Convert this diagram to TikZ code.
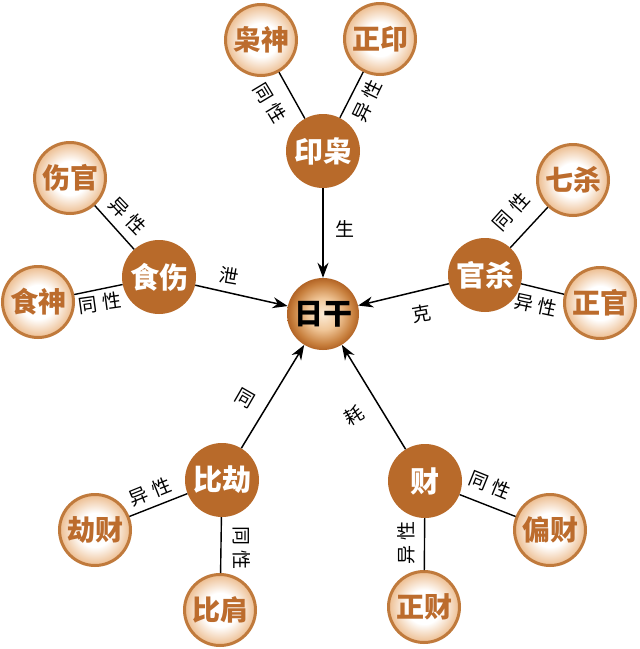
\documentclass[tikz,border=0pt]{standalone}
\usepackage{fontspec}
\newfontfamily\cjk{Noto Sans CJK SC}
\usetikzlibrary{arrows.meta}
\definecolor{brownfill}{RGB}{184,106,42}
\definecolor{ringcol}{RGB}{192,122,60}
\definecolor{outertext}{RGB}{188,108,45}
\definecolor{peach}{RGB}{238,194,152}
\definecolor{sunA}{RGB}{252,236,216}
\definecolor{sunB}{RGB}{240,198,152}
\definecolor{sunC}{RGB}{200,128,62}
\definecolor{sunD}{RGB}{178,100,38}
\pgfdeclareradialshading{outerball}{\pgfpoint{0bp}{0bp}}{color(0bp)=(white); color(12bp)=(white); color(24bp)=(peach); color(50bp)=(peach)}
\pgfdeclareradialshading{sunball}{\pgfpoint{0bp}{0bp}}{color(0bp)=(sunA); color(11bp)=(sunB); color(21bp)=(sunC); color(25bp)=(sunD); color(50bp)=(sunD)}
\tikzset{
  outernode/.style={circle, minimum size=71pt, inner sep=0pt, draw=ringcol, line width=3pt, shade, shading=outerball, font=\cjk\bfseries\fontsize{28}{28}\selectfont, text=outertext},
  innernode/.style={circle, minimum size=74pt, inner sep=0pt, fill=brownfill, font=\cjk\bfseries\fontsize{29}{29}\selectfont, text=white},
  sunnode/.style={circle, minimum size=72pt, inner sep=0pt, shade, shading=sunball, font=\cjk\bfseries\fontsize{29}{29}\selectfont, text=black},
  lbl/.style={font=\cjk\fontsize{19}{19}\selectfont, inner sep=0pt, text=black},
  link/.style={line width=1.4pt, draw=black},
  arr/.style={line width=1.5pt, draw=black, -{Stealth[length=15pt,width=11pt]}}
}
\begin{document}
\begin{tikzpicture}[x=1pt,y=-1pt]
\useasboundingbox[fill=white] (0,0) rectangle (640,649);
% centre
\node[sunnode] (ri) at (323,314) {日干};
% inner nodes
\node[innernode] (yx) at (323,151) {印枭};
\node[innernode] (ss) at (159,277) {食伤};
\node[innernode] (gs) at (485,275) {官杀};
\node[innernode] (bj) at (222,480) {比劫};
\node[innernode] (cai) at (425,481) {财};
% outer nodes
\node[outernode] (xs) at (261,40) {枭神};
\node[outernode] (zy) at (380,39) {正印};
\node[outernode] (sg) at (70,178) {伤官};
\node[outernode] (sh) at (38,302) {食神};
\node[outernode] (qs) at (573,180) {七杀};
\node[outernode] (zg) at (600,303) {正官};
\node[outernode] (jc) at (95,530) {劫财};
\node[outernode] (bjian) at (220,610) {比肩};
\node[outernode] (pc) at (550,530) {偏财};
\node[outernode] (zc) at (424,607) {正财};
% links
\draw[link] (yx) -- (xs);
\draw[link] (yx) -- (zy);
\draw[link] (ss) -- (sg);
\draw[link] (ss) -- (sh);
\draw[link] (gs) -- (qs);
\draw[link] (gs) -- (zg);
\draw[link] (bj) -- (jc);
\draw[link] (bj) -- (bjian);
\draw[link] (cai) -- (pc);
\draw[link] (cai) -- (zc);
% arrows
\draw[arr] (yx) -- (ri);
\draw[arr] (ss) -- (ri);
\draw[arr] (gs) -- (ri);
\draw[arr] (bj) -- (ri);
\draw[arr] (cai) -- (ri);
% labels
\node[lbl, rotate=-59] (l1) at (270,103) {同\hspace{5pt}性};
\node[lbl, rotate=64] (l2) at (367,101) {异\hspace{5pt}性};
\node[lbl] (l3) at (345,229) {生};
\node[lbl, rotate=-46] (l4) at (128,216) {异\hspace{5pt}性};
\node[lbl, rotate=8] (l5) at (100,303) {同\hspace{5pt}性};
\node[lbl, rotate=-10] (l6) at (229,276) {泄};
\node[lbl, rotate=48] (l7) at (511,212) {同\hspace{5pt}性};
\node[lbl, rotate=-12] (l8) at (536,305) {异\hspace{5pt}性};
\node[lbl, rotate=10] (l9) at (422,314) {克};
\node[lbl, rotate=22] (l10) at (150,492) {异\hspace{5pt}性};
\node[lbl, rotate=-90] (l11) at (242,548) {同\hspace{5pt}性};
\node[lbl, rotate=-30] (l12) at (245,398) {同};
\node[lbl, rotate=30] (l13) at (354,415) {耗};
\node[lbl, rotate=-22] (l14) at (490,485) {同\hspace{5pt}性};
\node[lbl, rotate=90] (l15) at (406,543) {异\hspace{5pt}性};
\end{tikzpicture}
\end{document}
